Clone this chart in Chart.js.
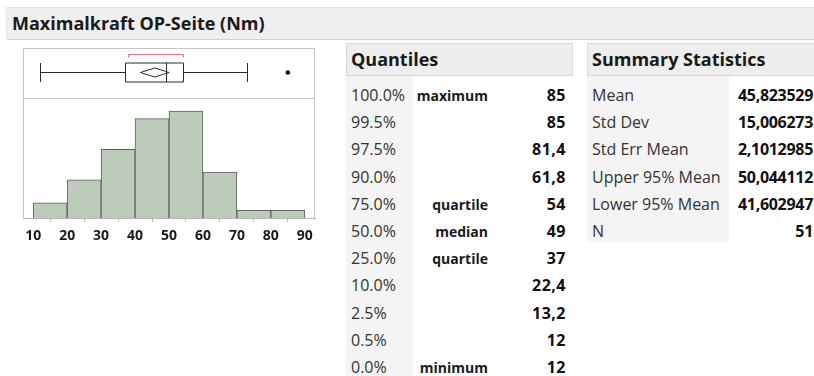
<!DOCTYPE html>
<html>
<head>
<meta charset="utf-8">
<script src="https://cdn.jsdelivr.net/npm/chart.js@4.4.1/dist/chart.umd.min.js"></script>
<style>
  html, body { margin: 0; padding: 0; background: #fff; width: 814px; height: 376px; overflow: hidden;
    font-family: "Open Sans", "Noto Sans", sans-serif; color: #1a1a1a; }
  #title { position: absolute; left: 6px; top: 7px; width: 808px; height: 33px; box-sizing: border-box;
    background: #efefef; border-top: 1px solid #e4e4e4; border-left: 1px solid #e4e4e4; border-bottom: 1px solid #d2d2d2;
    font-weight: bold; font-size: 18px; line-height: 30px; padding-left: 5px; white-space: nowrap; }
  #histWrap { position: absolute; left: 0; top: 40px; width: 330px; height: 218px; }
  .hdr { position: absolute; top: 43px; height: 33px; box-sizing: border-box; background: #eeeeee;
    border: 1px solid #d8d8d8; font-weight: bold; font-size: 18px; line-height: 30px; padding-left: 4px; white-space: nowrap; overflow: hidden; }
  .col { position: absolute; top: 76px; bottom: 0; background: #f4f4f4; }
  .cell { position: absolute; height: 27px; line-height: 27px; white-space: nowrap; }
  .lvl { font-size: 16px; color: #333; }
  .nm { font-size: 14px; font-weight: bold; color: #1a1a1a; text-align: right; }
  .val { font-size: 16px; font-weight: bold; color: #111; text-align: right; letter-spacing: 0.5px; }
  .sval { font-size: 16px; font-weight: bold; color: #111; text-align: right; letter-spacing: -0.3px; }
  .lab { font-size: 16px; color: #333; }
</style>
</head>
<body>
<div id="title">Maximalkraft OP-Seite (Nm)</div>
<div id="histWrap"><canvas id="hist" width="330" height="218"></canvas></div>

<div class="hdr" style="left:346px;width:227px;">Quantiles</div>
<div class="col" style="left:346px;width:67px;"></div>
<div id="quantiles"></div>

<div class="hdr" style="left:587px;width:240px;">Summary Statistics</div>
<div class="col" style="left:587px;width:142px;height:166px;bottom:auto;"></div>
<div id="summary"></div>

<script>
// Histogram bins and counts
const binEdges = [10, 20, 30, 40, 50, 60, 70, 80, 90];
const binCounts = [2, 5, 9, 13, 14, 6, 1, 1];
const tickValues = [10, 20, 30, 40, 50, 60, 70, 80, 90];
const tickLabels = ['10', '20', '30', '40', '50', '60', '70', '80', '90'];

// Outlier box plot
const whiskers = [12, 73];
const quartiles = [37, 49, 54];
const outliers = [85];
const meanCI = [41.602947, 45.823529, 50.044112];
const shortestHalf = [38, 54];

// Quantiles table
const quantileLevels = ['100.0%', '99.5%', '97.5%', '90.0%', '75.0%', '50.0%', '25.0%', '10.0%', '2.5%', '0.5%', '0.0%'];
const quantileNames = ['maximum', '', '', '', 'quartile', 'median', 'quartile', '', '', '', 'minimum'];
const quantileValues = ['85', '85', '81,4', '61,8', '54', '49', '37', '22,4', '13,2', '12', '12'];

// Summary statistics table
const statNames = ['Mean', 'Std Dev', 'Std Err Mean', 'Upper 95% Mean', 'Lower 95% Mean', 'N'];
const statValues = ['45,823529', '15,006273', '2,1012985', '50,044112', '41,602947', '51'];

// ---- tables ----
const ROW0 = 82, ROWH = 27.2;
function cell(parent, cls, text, left, width, i) {
  const d = document.createElement('div');
  d.className = 'cell ' + cls;
  d.textContent = text;
  d.style.left = left + 'px';
  if (width) d.style.width = width + 'px';
  d.style.top = (ROW0 + i * ROWH) + 'px';
  parent.appendChild(d);
}
const qEl = document.getElementById('quantiles');
quantileLevels.forEach((lv, i) => {
  cell(qEl, 'lvl', lv, 351, 0, i);
  if (quantileNames[i]) cell(qEl, 'nm', quantileNames[i], 400, 88, i);
  cell(qEl, 'val', quantileValues[i], 500, 66, i);
});
const sEl = document.getElementById('summary');
statNames.forEach((nm, i) => {
  cell(sEl, 'lab', nm, 592, 0, i);
  cell(sEl, 'sval', statValues[i], 720, 93, i);
});

// ---- box plot drawn above the histogram on the shared x scale ----
const boxPlotPlugin = {
  id: 'boxPlot',
  afterDatasetsDraw(chart) {
    const { ctx, chartArea: a, scales: { x } } = chart;
    const px = v => Math.round(x.getPixelForValue(v)) + 0.5;
    const frameTop = a.top - 50;
    const midY = a.top - 26 + 0.5;
    const halfH = 9.5;
    ctx.save();
    ctx.lineWidth = 1;

    // frame around box plot and histogram
    ctx.strokeStyle = '#c6c6c6';
    ctx.beginPath();
    ctx.moveTo(a.left + 0.5, a.bottom);
    ctx.lineTo(a.left + 0.5, frameTop + 0.5);
    ctx.lineTo(a.right - 0.5, frameTop + 0.5);
    ctx.lineTo(a.right - 0.5, a.bottom);
    ctx.moveTo(a.left, a.top + 0.5);
    ctx.lineTo(a.right, a.top + 0.5);
    ctx.stroke();

    // shortest half bracket
    ctx.strokeStyle = '#ec6f7a';
    const by = frameTop + 6.5;
    ctx.beginPath();
    ctx.moveTo(px(shortestHalf[0]), by + 3);
    ctx.lineTo(px(shortestHalf[0]), by);
    ctx.lineTo(px(shortestHalf[1]), by);
    ctx.lineTo(px(shortestHalf[1]), by + 3);
    ctx.stroke();

    ctx.strokeStyle = '#2a2a2a';
    ctx.beginPath();
    // whiskers
    ctx.moveTo(px(whiskers[0]), midY); ctx.lineTo(px(quartiles[0]), midY);
    ctx.moveTo(px(quartiles[2]), midY); ctx.lineTo(px(whiskers[1]), midY);
    ctx.moveTo(px(whiskers[0]), midY - halfH); ctx.lineTo(px(whiskers[0]), midY + halfH);
    ctx.moveTo(px(whiskers[1]), midY - halfH); ctx.lineTo(px(whiskers[1]), midY + halfH);
    // box and median
    ctx.rect(px(quartiles[0]), midY - halfH, px(quartiles[2]) - px(quartiles[0]), 2 * halfH);
    ctx.moveTo(px(quartiles[1]), midY - halfH); ctx.lineTo(px(quartiles[1]), midY + halfH);
    ctx.stroke();

    // mean confidence diamond
    ctx.beginPath();
    ctx.moveTo(x.getPixelForValue(meanCI[0]), midY);
    ctx.lineTo(x.getPixelForValue(meanCI[1]), midY - 4.5);
    ctx.lineTo(x.getPixelForValue(meanCI[2]), midY);
    ctx.lineTo(x.getPixelForValue(meanCI[1]), midY + 4.5);
    ctx.closePath();
    ctx.stroke();

    // outliers
    ctx.fillStyle = '#111';
    outliers.forEach(v => {
      ctx.beginPath();
      ctx.arc(x.getPixelForValue(v), midY, 2.3, 0, Math.PI * 2);
      ctx.fill();
    });
    ctx.restore();
  }
};

const barData = binCounts.map((c, i) => ({ x: (binEdges[i] + binEdges[i + 1]) / 2, y: c }));

new Chart(document.getElementById('hist'), {
  type: 'bar',
  data: {
    datasets: [{
      data: barData,
      backgroundColor: '#bdcbbb',
      borderColor: '#5e5e5e',
      borderWidth: 1,
      barPercentage: 1,
      categoryPercentage: 1,
      borderSkipped: 'bottom'
    }]
  },
  options: {
    responsive: false,
    animation: false,
    devicePixelRatio: 1,
    layout: { padding: { left: 23, right: 15, top: 58, bottom: 0 } },
    plugins: { legend: { display: false }, tooltip: { enabled: false } },
    scales: {
      x: {
        type: 'linear',
        offset: false,
        min: 7,
        max: 93,
        afterBuildTicks: s => { s.ticks = tickValues.map(v => ({ value: v })); },
        afterFit: s => { s.height = 40; },
        ticks: {
          autoSkip: false,
          maxRotation: 0,
          padding: 6,
          color: '#1a1a1a',
          font: { family: 'Open Sans', size: 14, weight: 'bold' },
          callback: v => tickLabels[tickValues.indexOf(v)]
        },
        grid: { drawOnChartArea: false, drawTicks: true, tickLength: 4, color: '#b8b8b8' },
        border: { display: true, color: '#b4b4b4' }
      },
      y: { display: false, min: 0, max: 15.7 }
    }
  },
  plugins: [boxPlotPlugin]
});
</script>
</body>
</html>
